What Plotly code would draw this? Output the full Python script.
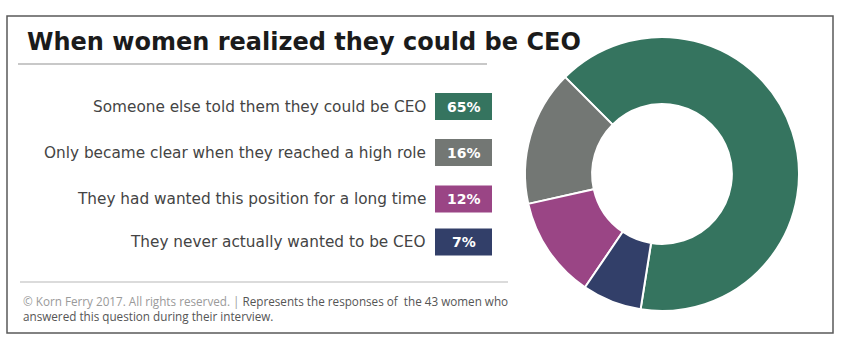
import plotly.graph_objects as go

categories = [
    "Someone else told them they could be CEO",
    "Only became clear when they reached a high role",
    "They had wanted this position for a long time",
    "They never actually wanted to be CEO",
]
values = [65, 16, 12, 7]
colors = ["#35745F", "#737774", "#9A4585", "#323F69"]
title_text = "When women realized they could be CEO"
note_light = "© Korn Ferry 2017. All rights reserved. |"
note_dark = " Represents the responses of  the 43 women who<br>answered this question during their interview."

W, H = 850, 346
TITLE_FONT = "DejaVu Sans"
LABEL_FONT = "DejaVu Sans"
NOTE_FONT = "Open Sans"


def px(x):
    return x / W


def py(y):
    return 1 - y / H


fig = go.Figure()

cx, cy, r = 662, 174, 137
fig.add_trace(go.Pie(
    labels=categories,
    values=values,
    marker=dict(colors=colors, line=dict(color="white", width=2)),
    hole=0.51,
    sort=False,
    direction="counterclockwise",
    rotation=-45,
    textinfo="none",
    hoverinfo="label+percent",
    showlegend=False,
    domain=dict(x=[px(cx - r), px(cx + r)], y=[py(cy + r), py(cy - r)]),
))

shapes = []
annotations = []

# outer border
shapes.append(dict(type="rect", xref="paper", yref="paper",
                   x0=px(7), x1=px(833), y0=py(333), y1=py(16),
                   line=dict(color="#5a5a5a", width=1.5), layer="below"))
# title underline
shapes.append(dict(type="line", xref="paper", yref="paper",
                   x0=px(18), x1=px(487), y0=py(64), y1=py(64),
                   line=dict(color="#c8c8c8", width=2), layer="below"))
# footer line
shapes.append(dict(type="line", xref="paper", yref="paper",
                   x0=px(20), x1=px(508), y0=py(282), y1=py(282),
                   line=dict(color="#cfcfcf", width=1.5), layer="below"))

annotations.append(dict(text="<b>" + title_text + "</b>", xref="paper", yref="paper",
                        x=px(25), y=py(42), xanchor="left", yanchor="middle",
                        showarrow=False, font=dict(family=TITLE_FONT, size=24, color="#1b1b1b")))

row_y = [106.5, 152.5, 199, 242]
for i, (cat, val, col) in enumerate(zip(categories, values, colors)):
    yc = row_y[i]
    shapes.append(dict(type="rect", xref="paper", yref="paper",
                       x0=px(435), x1=px(492), y0=py(yc + 13.5), y1=py(yc - 13.5),
                       fillcolor=col, line=dict(width=0)))
    annotations.append(dict(text=cat, xref="paper", yref="paper",
                            x=px(428), y=py(yc), xanchor="right", yanchor="middle",
                            showarrow=False, font=dict(family=LABEL_FONT, size=15.3, color="#444444")))
    annotations.append(dict(text="<b>%d%%</b>" % val, xref="paper", yref="paper",
                            x=px(463.5), y=py(yc), xanchor="center", yanchor="middle",
                            showarrow=False, font=dict(family=LABEL_FONT, size=14, color="white")))

annotations.append(dict(
    text="<span style='color:#9a9a9a'>" + note_light + "</span>" + note_dark,
    xref="paper", yref="paper", x=px(21), y=py(308), xanchor="left", yanchor="middle",
    align="left", showarrow=False, font=dict(family=NOTE_FONT, size=11.7, color="#555555")))

fig.update_layout(
    width=W, height=H,
    margin=dict(l=0, r=0, t=0, b=0),
    paper_bgcolor="white", plot_bgcolor="white",
    shapes=shapes, annotations=annotations,
)

fig.write_html("out.html")
